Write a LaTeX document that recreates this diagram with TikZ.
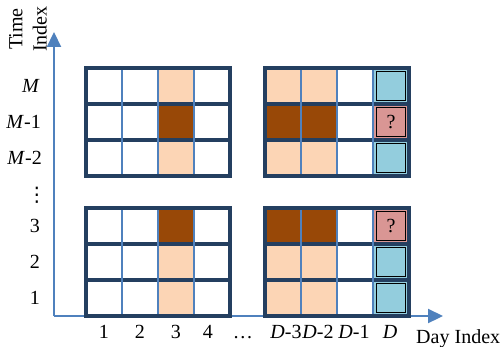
\documentclass[tikz,border=0pt]{standalone}
\usepackage{fontspec}
\setmainfont{Liberation Serif}
\newfontfamily\dotsfont{DejaVu Sans}
\usepackage{tikz}
\usetikzlibrary{arrows.meta}
\definecolor{gridnavy}{HTML}{243F60}
\definecolor{lineblue}{HTML}{4F81BD}
\definecolor{peach}{HTML}{FCD5B5}
\definecolor{rust}{HTML}{984807}
\definecolor{skyblue}{HTML}{93CDDD}
\definecolor{rose}{HTML}{D99694}

\begin{document}
\begin{tikzpicture}[x=1cm,y=1cm,
  font=\fontsize{11.4}{13.7}\selectfont,
  axisline/.style={draw=lineblue, line width=1pt, -{Triangle[width=8pt,length=8.5pt]}},
  colline/.style={draw=lineblue, line width=1.1pt},
  rowline/.style={draw=gridnavy, line width=2.7pt},
  dcell/.style={draw=black, line width=0.7pt}]
\useasboundingbox (0,0) rectangle (10.02,-6.92);
% axes
\coordinate (origin) at (1.08,-6.32);
\coordinate (ytip) at (1.08,-0.64);
\coordinate (xtip) at (8.86,-6.32);
\draw[axisline] (origin) -- (ytip);
\draw[axisline] (origin) -- (xtip);
\node[rotate=90, align=center] (tlabel) at (0.56,-0.58) {Time\\Index};
% top left grid
\fill[peach] (3.16,-1.36) rectangle (3.88,-2.08);
\fill[rust] (3.16,-2.08) rectangle (3.88,-2.80);
\fill[peach] (3.16,-2.80) rectangle (3.88,-3.52);
\draw[rowline] (1.72,-2.08) -- (4.60,-2.08);
\draw[rowline] (1.72,-2.80) -- (4.60,-2.80);
\draw[colline] (2.44,-1.36) -- (2.44,-3.52);
\draw[colline] (3.16,-1.36) -- (3.16,-3.52);
\draw[colline] (3.88,-1.36) -- (3.88,-3.52);
\draw[rowline] (1.72,-1.36) rectangle (4.60,-3.52);
% top right grid
\fill[peach] (5.30,-1.36) rectangle (6.74,-2.08);
\fill[rust] (5.30,-2.08) rectangle (6.74,-2.80);
\fill[peach] (5.30,-2.80) rectangle (6.74,-3.52);
\fill[skyblue] (7.46,-1.36) rectangle (8.18,-2.08);
\fill[rose] (7.46,-2.08) rectangle (8.18,-2.80);
\fill[skyblue] (7.46,-2.80) rectangle (8.18,-3.52);
\draw[rowline] (5.30,-2.08) -- (8.18,-2.08);
\draw[rowline] (5.30,-2.80) -- (8.18,-2.80);
\draw[colline] (6.02,-1.36) -- (6.02,-3.52);
\draw[colline] (6.74,-1.36) -- (6.74,-3.52);
\draw[colline] (7.46,-1.36) -- (7.46,-3.52);
\draw[rowline] (5.30,-1.36) rectangle (8.18,-3.52);
\draw[dcell] (7.53,-1.43) rectangle (8.11,-2.01);
\draw[dcell] (7.53,-2.15) rectangle (8.11,-2.73);
\draw[dcell] (7.53,-2.87) rectangle (8.11,-3.45);
\node (qtop) at (7.82,-2.44) {?};
% bottom left grid
\fill[rust] (3.16,-4.16) rectangle (3.88,-4.88);
\fill[peach] (3.16,-4.88) rectangle (3.88,-6.32);
\draw[rowline] (1.72,-4.88) -- (4.60,-4.88);
\draw[rowline] (1.72,-5.60) -- (4.60,-5.60);
\draw[colline] (2.44,-4.16) -- (2.44,-6.32);
\draw[colline] (3.16,-4.16) -- (3.16,-6.32);
\draw[colline] (3.88,-4.16) -- (3.88,-6.32);
\draw[rowline] (1.72,-4.16) rectangle (4.60,-6.32);
% bottom right grid
\fill[rust] (5.30,-4.16) rectangle (6.74,-4.88);
\fill[peach] (5.30,-4.88) rectangle (6.74,-6.32);
\fill[rose] (7.46,-4.16) rectangle (8.18,-4.88);
\fill[skyblue] (7.46,-4.88) rectangle (8.18,-6.32);
\draw[rowline] (5.30,-4.88) -- (8.18,-4.88);
\draw[rowline] (5.30,-5.60) -- (8.18,-5.60);
\draw[colline] (6.02,-4.16) -- (6.02,-6.32);
\draw[colline] (6.74,-4.16) -- (6.74,-6.32);
\draw[colline] (7.46,-4.16) -- (7.46,-6.32);
\draw[rowline] (5.30,-4.16) rectangle (8.18,-6.32);
\draw[dcell] (7.53,-4.23) rectangle (8.11,-4.81);
\draw[dcell] (7.53,-4.95) rectangle (8.11,-5.53);
\draw[dcell] (7.53,-5.67) rectangle (8.11,-6.25);
\node (qbot) at (7.82,-4.52) {?};
% time labels
\node[anchor=east] (tm) at (0.92,-1.72) {\textit{M}};
\node[anchor=east] (tm1) at (0.94,-2.44) {\textit{M}-1};
\node[anchor=east] (tm2) at (0.96,-3.16) {\textit{M}-2};
\node (tdots) at (0.74,-3.90) {\dotsfont ⋮};
\node (t3) at (0.70,-4.52) {3};
\node (t2) at (0.70,-5.24) {2};
\node (t1) at (0.70,-5.96) {1};
% day labels
\node[anchor=base] (d1) at (2.08,-6.76) {1};
\node[anchor=base] (d2) at (2.80,-6.76) {2};
\node[anchor=base] (d3) at (3.52,-6.76) {3};
\node[anchor=base] (d4) at (4.16,-6.76) {4};
\node[anchor=base] (ddots) at (4.86,-6.76) {\dots};
\node[anchor=base] (dd3) at (5.72,-6.76) {\textit{D}-3};
\node[anchor=base] (dd2) at (6.36,-6.76) {\textit{D}-2};
\node[anchor=base] (dd1) at (7.08,-6.76) {\textit{D}-1};
\node[anchor=base] (dd) at (7.80,-6.76) {\textit{D}};
\node[anchor=base west] (dlabel) at (8.20,-6.86) {Day Index};
\end{tikzpicture}
\end{document}
